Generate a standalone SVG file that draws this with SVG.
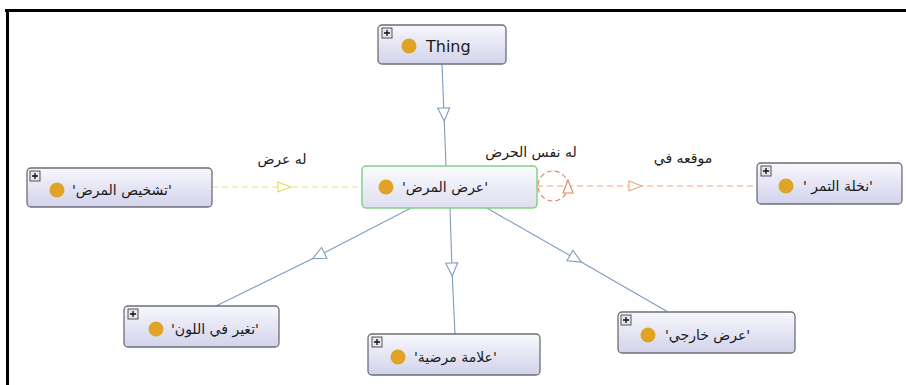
<svg xmlns="http://www.w3.org/2000/svg" width="906" height="385" viewBox="0 0 906 385">
<defs>
<linearGradient id="g" x1="0" y1="0" x2="0" y2="1">
<stop offset="0" stop-color="#f8f8fd"/>
<stop offset="1" stop-color="#d2d2ec"/>
</linearGradient>
<linearGradient id="gc" x1="0" y1="0" x2="0" y2="1">
<stop offset="0" stop-color="#fbfbfe"/>
<stop offset="1" stop-color="#dedef0"/>
</linearGradient>
<marker id="tb" markerUnits="userSpaceOnUse" markerWidth="16" markerHeight="16" refX="7" refY="6" orient="auto" viewBox="-1 -1 16 14">
<path d="M0,0 L13,6 L0,12 Z" fill="#fff" stroke="#7d9cbd" stroke-width="1.1"/>
</marker>
<marker id="ty" markerUnits="userSpaceOnUse" markerWidth="16" markerHeight="16" refX="7" refY="5" orient="auto" viewBox="-1 -1 16 12">
<path d="M0,0 L13,5 L0,10 Z" fill="#fff" stroke="#e8d85a" stroke-width="1.1"/>
</marker>
<marker id="to" markerUnits="userSpaceOnUse" markerWidth="16" markerHeight="16" refX="7" refY="5" orient="auto" viewBox="-1 -1 16 12">
<path d="M0,0 L13,5 L0,10 Z" fill="#fff" stroke="#e8a878" stroke-width="1.1"/>
</marker>
</defs>
<style>
.n{fill:url(#g);stroke:#6e6e78;stroke-width:1.3}
.c{fill:url(#gc);stroke:#86d086;stroke-width:1.5}
.p{fill:#e6e6ea;stroke:#444;stroke-width:0.9}
.pl{stroke:#111;stroke-width:1.3}
.d{fill:#dfa326}
.t{font-family:"DejaVu Sans",sans-serif;font-size:14px;fill:#1a1a1a}
.l{font-family:"DejaVu Sans",sans-serif;font-size:14px;fill:#1a1a1a;text-anchor:middle}
.e{fill:none;stroke:#7d9cbd;stroke-width:1.1}
</style>
<rect width="906" height="385" fill="#fff"/>
<path d="M5,10.5 H906 M7.5,9 V385" stroke="#000" stroke-width="3" fill="none"/>

<g id="connectors">
<polyline class="e" points="442,64 444,115 446,166" marker-mid="url(#tb)"/>
<polyline class="e" points="413,207 318,256 216,306" marker-mid="url(#tb)"/>
<polyline class="e" points="450,208 452,270 455,334" marker-mid="url(#tb)"/>
<polyline class="e" points="485,207 576,259 668,312" marker-mid="url(#tb)"/>
<polyline points="212,187 285,187 362,187" fill="none" stroke="#eee27a" stroke-width="1.2" stroke-dasharray="6,4" marker-mid="url(#ty)"/>
<polyline points="537,186 636,186 757,186" fill="none" stroke="#e8a878" stroke-width="1.2" stroke-dasharray="6,4" marker-mid="url(#to)"/>
<circle cx="553" cy="186" r="15" fill="none" stroke="#e0845a" stroke-width="1.1" stroke-dasharray="5,3"/>
<path d="M568,180 L573,193 L563,193 Z" fill="#fff" stroke="#e0845a" stroke-width="1.1"/>
<text class="l" x="282" y="164">له عرض</text>
<text class="l" x="531" y="157">له نفس الحرض</text>
<text class="l" x="683" y="163">موقعه في</text>
</g>

<g id="thing">
<rect class="n" x="378" y="25" width="128" height="39" rx="4"/>
<rect class="p" x="382" y="28" width="10" height="10"/>
<path class="pl" d="M384,33 H390 M387,30 V36"/>
<circle class="d" cx="409" cy="46" r="7.5"/>
<text class="t" x="426" y="51.5" style="font-size:16px">Thing</text>
</g>

<g id="tashkhis">
<rect class="n" x="27" y="168" width="185" height="39" rx="4"/>
<rect class="p" x="30" y="171" width="10" height="10"/>
<path class="pl" d="M32,176 H38 M35,173 V179"/>
<circle class="d" cx="57" cy="190" r="7.5"/>
<text class="t" x="72" y="195">'تشخيص المرض'</text>
</g>

<g id="aradh-almaradh">
<rect class="c" x="362" y="166" width="175" height="42" rx="4"/>
<circle class="d" cx="386" cy="187" r="7.5"/>
<text class="t" x="402" y="192">'عرض المرض'</text>
</g>

<g id="nakhla">
<rect class="n" x="757" y="163" width="145" height="41" rx="4"/>
<rect class="p" x="761" y="166" width="10" height="10"/>
<path class="pl" d="M763,171 H769 M766,168 V174"/>
<circle class="d" cx="786" cy="186" r="7.5"/>
<text class="t" x="803" y="191">' نخلة التمر'</text>
</g>

<g id="taghayur">
<rect class="n" x="124" y="306" width="155" height="41" rx="4"/>
<rect class="p" x="128" y="309" width="10" height="10"/>
<path class="pl" d="M130,314 H136 M133,311 V317"/>
<circle class="d" cx="156" cy="329" r="7.5"/>
<text class="t" x="171" y="334">'تغير في اللون'</text>
</g>

<g id="alama">
<rect class="n" x="368" y="334" width="172" height="41" rx="4"/>
<rect class="p" x="372" y="337" width="10" height="10"/>
<path class="pl" d="M374,342 H380 M377,339 V345"/>
<circle class="d" cx="398" cy="357" r="7.5"/>
<text class="t" x="414" y="362">'علامة مرضية'</text>
</g>

<g id="kharji">
<rect class="n" x="618" y="312" width="177" height="41" rx="4"/>
<rect class="p" x="621" y="315" width="10" height="10"/>
<path class="pl" d="M623,320 H629 M626,317 V323"/>
<circle class="d" cx="648" cy="335" r="7.5"/>
<text class="t" x="665" y="340">'عرض خارجي'</text>
</g>
</svg>
